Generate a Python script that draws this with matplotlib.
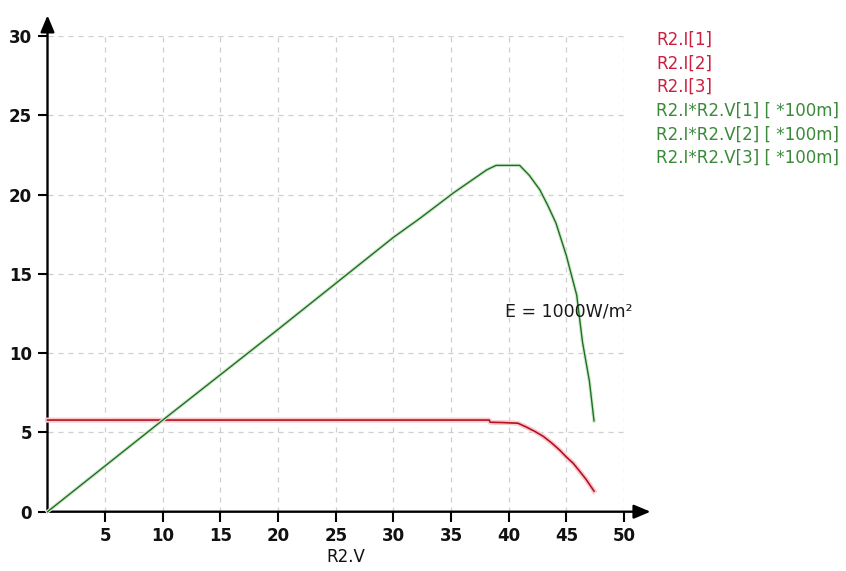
import numpy as np
import matplotlib.pyplot as plt
import matplotlib.patheffects as pe

# # Current curve R2.I (A), three identical traces
v_current = [0, 38.3, 38.4, 39.5, 40.8, 41.5, 42.3, 43.0, 43.7, 44.4, 45.0, 45.6, 46.1, 46.7, 47.4]
i_current = [5.78, 5.78, 5.64, 5.62, 5.58, 5.35, 5.05, 4.75, 4.35, 3.90, 3.45, 3.05, 2.60, 2.05, 1.30]

# # Power curve R2.I*R2.V scaled by 100m
v_power = [0, 10, 20, 30, 32.3, 35.2, 38.1, 38.9, 40.95, 41.8, 42.7, 43.4, 44.1, 45.0, 45.9, 46.4, 47.0, 47.4]
p_power = [0, 5.78, 11.5, 17.3, 18.5, 20.1, 21.56, 21.84, 21.84, 21.2, 20.3, 19.3, 18.2, 16.15, 13.65, 10.7, 8.23, 5.73]

x_ticks = [5, 10, 15, 20, 25, 30, 35, 40, 45, 50]
y_ticks = [0, 5, 10, 15, 20, 25, 30]

current_labels = ["R2.I[1]", "R2.I[2]", "R2.I[3]"]
power_labels = ["R2.I*R2.V[1] [ *100m]", "R2.I*R2.V[2] [ *100m]", "R2.I*R2.V[3] [ *100m]"]
annotation = "E = 1000W/m\u00b2"

plt.rcParams['font.family'] = ['DejaVu Sans']

W, H = 846, 571
fig = plt.figure(figsize=(W / 100, H / 100), dpi=100)
ax = fig.add_axes([47.5 / W, 59.3 / H, 576.5 / W, 475.7 / H])
ax.set_xlim(0, 50)
ax.set_ylim(0, 30)

for s in ax.spines.values():
    s.set_visible(False)

# grid
for xv in x_ticks:
    ax.plot([xv, xv], [0, 30], color='#cfcfcf', lw=0.9, ls=(0, (4, 4)), zorder=1)
for yv in y_ticks[1:]:
    ax.plot([0, 50], [yv, yv], color='#cfcfcf', lw=0.9, ls=(0, (4, 4)), zorder=1)

# axes with arrows
arrow_style = dict(arrowstyle='-|>,head_length=1.0,head_width=0.42', color='black', lw=1.7,
                   shrinkA=0, shrinkB=0)
ax.annotate("", xy=(52.3, 0), xytext=(0, 0), annotation_clip=False, arrowprops=arrow_style)
ax.annotate("", xy=(0, 31.3), xytext=(0, 0), annotation_clip=False, arrowprops=arrow_style)

# curves
glow_red = [pe.Stroke(linewidth=3.2, foreground='#f9ccd2'), pe.Normal()]
glow_green = [pe.Stroke(linewidth=2.2, foreground='#d3ebd3'), pe.Normal()]
for lab in current_labels:
    ax.plot(v_current, i_current, color='#b3121f', lw=1.2, label=lab, zorder=3,
            path_effects=glow_red, clip_on=False)
for lab in power_labels:
    ax.plot(v_power, p_power, color='#1f6f1f', lw=1.0, label=lab, zorder=4,
            path_effects=glow_green, clip_on=False)

ax.text(39.65, 12.6, annotation, fontsize=12.5, color='#1a1a1a', va='center', ha='left', zorder=5)

# ticks
ax.set_xticks(x_ticks)
ax.set_yticks(y_ticks)
ax.tick_params(axis='both', direction='out', length=7, width=1.5, color='black',
               labelsize=12, labelcolor='#111111', pad=4)
for t in ax.get_xticklabels() + ax.get_yticklabels():
    t.set_fontweight('semibold')
ax.set_xlabel("R2.V", fontsize=12, color='#111111')
ax.xaxis.set_label_coords(0.518, -0.0946)
ax.xaxis.label.set_va('center')

# legend as coloured text
for k, lab in enumerate(current_labels + power_labels):
    col = '#cc1f3f' if k < 3 else '#3a8a3a'
    y_px = 40 + 23.6 * k
    fig.text(656 / W, 1 - y_px / H, lab, fontsize=12, color=col, ha='left', va='center')

plt.savefig("out.png", dpi=100)
